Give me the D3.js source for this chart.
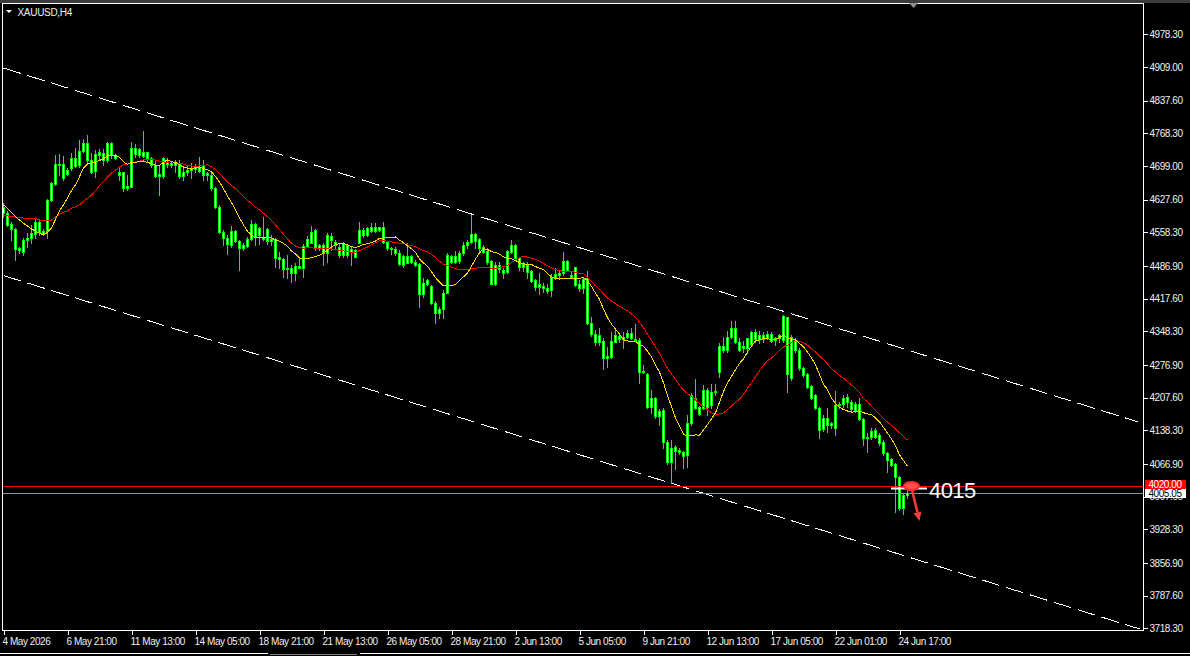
<!DOCTYPE html>
<html><head><meta charset="utf-8">
<script src="https://cdn.jsdelivr.net/npm/d3@7"></script>
<style>
html,body{margin:0;padding:0;background:#000;overflow:hidden}
svg{display:block}
text{font-family:"Liberation Sans",Arial,sans-serif}
</style></head><body>
<svg id="c" width="1190" height="656"></svg>
<script>
const symbolTitle = "XAUUSD,H4";
const opens = [
4612.7,4599.9,4575.2,4564.6,4525.7,4517.2,4541.2,4545.5,4554.0,4579.4,
4555.4,4561.0,4626.8,4660.0,4703.9,4702.5,4682.7,4694.0,4715.2,4701.1,
4730.7,4747.0,4711.7,4689.0,4722.3,4725.8,4711.7,4747.0,4722.3,4685.5,
4685.5,4651.6,4655.1,4736.4,4722.3,4720.8,4727.9,4715.2,4701.1,4678.4,
4678.4,4706.7,4704.6,4701.1,4702.5,4678.4,4685.5,4690.4,4692.6,4689.0,
4701.1,4683.4,4679.8,4651.6,4612.7,4558.2,4545.5,4531.4,4561.1,4540.6,
4524.3,4530.0,4543.4,4575.9,4552.6,4547.6,4564.6,4540.6,4543.4,4505.2,
4500.9,4480.5,4483.3,4472.7,4486.8,4483.3,4530.0,4536.3,4563.2,4525.7,
4531.4,4515.1,4551.2,4538.4,4526.4,4510.2,4531.4,4517.2,4520.8,4536.3,
4563.2,4552.6,4561.8,4568.9,4563.2,4570.3,4538.4,4522.2,4522.2,4513.7,
4488.9,4508.0,4496.0,4496.0,4491.1,4427.4,4448.6,4444.4,4409.0,4387.8,
4394.9,4430.3,4508.0,4496.0,4497.0,4513.7,4531.3,4537.0,4554.0,4544.1,
4527.8,4518.6,4497.4,4448.6,4488.9,4478.3,4473.4,4517.2,4531.3,4503.1,
4485.4,4488.9,4476.2,4457.1,4443.0,4444.4,4440.8,4435.9,4464.2,4467.7,
4471.2,4497.4,4467.7,4484.0,4447.9,4439.4,4462.0,4365.2,4341.8,4326.3,
4327.7,4292.3,4294.5,4326.3,4339.0,4331.9,4336.9,4345.4,4331.9,4329.8,
4262.6,4257.0,4188.4,4206.1,4169.3,4181.3,4112.7,4071.7,4103.6,4096.5,
4092.9,4085.9,4153.1,4207.5,4188.4,4186.3,4223.8,4192.0,4218.9,4261.3,
4317.8,4308.6,4336.9,4354.6,4324.9,4312.2,4312.2,4320.7,4346.1,4332.0,
4340.5,4333.4,4341.9,4329.9,4333.4,4329.9,4377.9,4249.9,4327.7,4308.6,
4269.8,4257.7,4233.0,4213.2,4186.3,4141.1,4163.7,4149.5,4142.5,4192.0,
4193.4,4209.6,4199.0,4181.4,4194.1,4162.3,4121.3,4124.8,4138.9,4128.3,
4114.2,4089.4,4077.4,4066.0,4040.0,3973.0,4002.0];
const highs = [
4619.7,4603.5,4580.8,4566.7,4527.8,4545.5,4556.1,4573.8,4585.8,4585.8,
4565.3,4628.9,4664.3,4722.3,4723.7,4720.8,4694.0,4725.8,4736.4,4754.1,
4756.2,4764.7,4725.8,4732.9,4735.0,4735.0,4749.1,4750.5,4723.7,4697.5,
4686.9,4679.8,4749.1,4744.9,4737.8,4773.2,4729.3,4718.7,4711.7,4701.1,
4718.7,4715.2,4709.5,4711.7,4711.7,4697.5,4701.1,4704.6,4702.5,4718.7,
4711.7,4686.9,4686.9,4655.1,4616.2,4563.2,4552.0,4571.7,4563.2,4542.0,
4534.9,4547.6,4584.4,4577.0,4568.9,4591.5,4566.7,4552.6,4545.5,4517.2,
4503.1,4510.2,4488.9,4492.5,4506.6,4533.5,4550.5,4571.7,4564.6,4533.5,
4534.9,4556.1,4557.5,4542.0,4534.9,4538.4,4533.5,4527.8,4522.2,4580.9,
4566.7,4568.9,4577.3,4578.7,4570.3,4580.9,4540.6,4527.8,4527.8,4520.8,
4510.2,4534.9,4510.2,4499.5,4492.5,4460.7,4458.5,4446.5,4413.3,4400.6,
4435.9,4513.7,4510.2,4519.4,4519.0,4538.4,4542.0,4595.0,4556.1,4545.5,
4531.3,4524.3,4499.5,4494.6,4494.6,4481.9,4520.7,4542.0,4532.8,4506.6,
4494.6,4494.6,4478.3,4459.2,4471.2,4450.0,4447.9,4469.1,4481.9,4478.3,
4515.8,4499.5,4474.8,4485.4,4457.1,4462.1,4476.2,4379.3,4351.0,4356.0,
4333.4,4315.7,4347.5,4354.6,4341.8,4347.5,4351.0,4356.0,4363.1,4333.4,
4276.8,4259.1,4223.8,4209.6,4183.5,4184.9,4117.7,4117.7,4107.1,4101.4,
4094.4,4170.7,4216.7,4247.1,4190.6,4234.4,4228.7,4235.8,4235.8,4322.8,
4336.9,4348.9,4370.2,4370.2,4333.4,4327.7,4335.0,4348.9,4353.2,4348.9,
4347.5,4348.9,4347.5,4336.9,4341.9,4382.9,4379.4,4340.5,4333.4,4312.2,
4273.3,4259.1,4234.4,4214.6,4188.4,4170.7,4185.0,4156.6,4221.7,4199.0,
4213.2,4214.6,4202.6,4199.0,4206.1,4163.7,4131.9,4143.9,4143.9,4131.9,
4117.7,4093.0,4078.8,4068.2,4042.0,4004.0,4016.0];
const lows = [
4591.4,4572.4,4542.0,4499.5,4513.7,4510.1,4527.8,4534.9,4545.5,4552.6,
4552.6,4545.5,4624.7,4658.6,4679.8,4669.2,4679.8,4690.4,4697.5,4697.5,
4729.3,4708.1,4683.4,4676.3,4711.7,4701.1,4708.1,4715.2,4713.8,4669.2,
4646.6,4648.0,4653.7,4718.7,4718.7,4718.7,4708.1,4697.5,4676.3,4637.4,
4672.8,4697.5,4697.5,4686.9,4672.8,4669.2,4679.8,4672.8,4686.9,4686.9,
4669.2,4669.2,4648.0,4609.1,4556.1,4531.3,4511.5,4527.8,4538.4,4478.3,
4520.8,4527.8,4542.0,4531.4,4533.5,4542.0,4533.5,4531.4,4484.0,4481.9,
4464.2,4460.7,4453.6,4457.1,4481.9,4464.2,4527.8,4534.9,4520.8,4520.8,
4488.9,4496.0,4520.8,4524.3,4506.6,4506.6,4506.6,4488.9,4505.2,4534.9,
4549.1,4550.5,4559.7,4559.7,4561.8,4534.9,4520.8,4512.3,4510.2,4488.9,
4485.4,4492.5,4492.5,4486.8,4400.6,4421.8,4446.5,4406.2,4366.6,4375.8,
4375.8,4428.8,4493.9,4492.5,4494.0,4510.1,4524.3,4534.9,4524.3,4517.2,
4513.7,4490.3,4448.6,4446.5,4474.8,4462.1,4471.2,4513.7,4499.5,4478.3,
4476.2,4462.1,4453.6,4435.9,4426.7,4430.9,4428.8,4423.9,4459.2,4459.2,
4467.7,4476.2,4462.1,4445.1,4433.8,4428.8,4363.1,4339.0,4319.2,4319.2,
4268.3,4273.2,4292.3,4324.9,4324.9,4312.1,4333.4,4331.9,4327.7,4237.9,
4259.1,4186.3,4174.3,4163.7,4149.5,4100.0,4066.1,4026.0,4056.2,4087.3,
4057.6,4060.0,4149.5,4183.5,4170.7,4183.5,4170.7,4186.3,4213.2,4252.1,
4305.1,4305.1,4333.4,4322.8,4306.5,4305.1,4301.6,4317.8,4326.3,4322.8,
4325.0,4331.0,4325.0,4319.3,4326.3,4326.3,4218.9,4245.0,4305.1,4266.2,
4252.1,4227.3,4204.7,4183.5,4121.3,4136.8,4135.4,4142.5,4128.3,4184.9,
4188.4,4188.4,4177.8,4177.8,4160.2,4107.1,4091.6,4119.8,4122.7,4107.1,
4085.9,4050.6,4063.3,3965.7,3970.0,3960.0,3995.0];
const closes = [
4598.5,4573.8,4565.3,4522.9,4520.7,4542.0,4546.9,4557.5,4579.4,4558.2,
4561.0,4626.8,4662.2,4702.5,4701.1,4672.8,4690.4,4715.2,4699.6,4730.7,
4747.0,4711.7,4686.9,4723.7,4727.9,4711.7,4747.0,4722.3,4715.2,4679.8,
4651.6,4656.5,4736.4,4723.7,4735.0,4727.9,4715.2,4701.1,4678.4,4681.2,
4715.2,4702.5,4701.1,4708.1,4678.4,4685.5,4690.4,4695.4,4697.5,4697.5,
4679.8,4679.8,4651.6,4612.7,4558.2,4545.5,4532.8,4561.1,4540.6,4525.7,
4531.4,4543.4,4575.9,4547.6,4566.7,4543.4,4540.6,4543.4,4504.5,4500.9,
4480.5,4483.3,4472.7,4486.8,4483.3,4530.0,4543.4,4559.7,4527.8,4531.4,
4515.1,4552.6,4542.0,4531.4,4510.2,4534.9,4510.2,4522.9,4506.6,4563.2,
4552.6,4566.7,4568.9,4561.8,4568.9,4538.4,4524.3,4525.7,4513.7,4490.4,
4508.0,4493.9,4508.0,4488.9,4427.4,4450.1,4457.1,4409.0,4387.8,4394.9,
4430.3,4510.2,4496.0,4508.0,4515.0,4531.3,4537.0,4554.0,4539.8,4525.7,
4517.2,4496.0,4449.3,4488.9,4480.4,4472.7,4518.6,4531.3,4503.1,4485.4,
4490.3,4474.8,4455.0,4443.0,4447.9,4439.4,4433.8,4464.2,4469.8,4472.7,
4497.4,4478.3,4464.2,4446.5,4439.4,4460.0,4365.2,4341.8,4326.3,4340.4,
4292.3,4296.6,4327.7,4340.4,4331.9,4336.9,4344.0,4333.4,4329.8,4262.6,
4264.8,4188.4,4207.5,4169.3,4179.2,4112.7,4070.3,4100.0,4094.4,4091.5,
4084.5,4153.1,4213.2,4186.3,4172.2,4223.8,4188.4,4218.9,4221.7,4317.8,
4308.6,4336.9,4354.6,4324.9,4308.6,4317.8,4333.4,4346.1,4332.0,4340.5,
4332.0,4341.9,4327.7,4333.4,4340.5,4380.8,4257.0,4336.9,4308.6,4269.8,
4255.6,4230.9,4207.5,4184.9,4138.9,4165.1,4149.5,4153.1,4192.0,4194.8,
4207.5,4199.0,4182.8,4194.1,4161.6,4121.3,4124.8,4136.8,4124.8,4110.7,
4089.4,4075.3,4064.7,4040.0,3973.0,4002.0,4005.05];

// moving-average values for the first bars, whose
// windows reach back before the first visible candle
const fastMaLeadIn = [4616.2,4609.1,4600.6,4591.4,4584.4,4577.3,4571.6,4565.3,4561.0];
const slowMaLeadIn = [4593.6,4592.9,4591.4,4590.7,4589.3,4588.6,4588.6,4588.6,4587.9,4584.4,
                      4582.3,4582.3,4584.4,4590.7,4596.4,4600.6,4604.2,4609.1,4612.7];

const xTickBars = [0,16,32,48,64,80,96,112,128,144,160,176,192,208,224];
const xTickLabels = ["4 May 2026","6 May 21:00","11 May 13:00","14 May 05:00","18 May 21:00","21 May 13:00","26 May 05:00","28 May 21:00","2 Jun 13:00","5 Jun 05:00","9 Jun 21:00","12 Jun 13:00","17 Jun 05:00","22 Jun 01:00","24 Jun 17:00"];
const yTickValues = [4978.30,4909.00,4837.60,4768.30,4699.00,4627.60,4558.30,4486.90,4417.60,4348.30,4276.90,4207.60,4138.30,4066.90,3997.60,3928.30,3856.90,3787.60,3718.30];

const levelLine = 4020.00;
const bidPrice = 4005.05;
const noteValue = 4015;
const channelUpper = [[0,4906.8],[283.7,4155.9]];
const channelLower = [[0,4466.5],[284,3717.0]];
const maFastPeriod = 10, maSlowPeriod = 20;

const W = 1190, H = 656;
const svg = d3.select("#c");
const x = d3.scaleLinear().domain([0,284]).range([3,1139]);
const y = d3.scaleLinear().domain([3718.3,4978.3]).range([628.3,34.3]);

svg.append("rect").attr("x",0).attr("y",0).attr("width",W).attr("height",H).attr("fill","#000");
svg.append("rect").attr("x",0).attr("y",0).attr("width",W).attr("height",3).attr("fill","#3c3c3c");

svg.append("clipPath").attr("id","plot").append("rect")
  .attr("x",3).attr("y",4).attr("width",1140).attr("height",626);
const g = svg.append("g").attr("clip-path","url(#plot)");

const bars = d3.range(closes.length).map(i => ({i, o:opens[i], h:highs[i], l:lows[i], c:closes[i]}));

// wicks
g.append("g").selectAll("rect").data(bars).join("rect")
  .attr("x", d => x(d.i)).attr("width", 1)
  .attr("y", d => Math.round(y(d.h)))
  .attr("height", d => Math.round(y(d.l)) - Math.round(y(d.h)) + 1)
  .attr("fill", "#00ff00").attr("shape-rendering","crispEdges");
// bodies
const bodyTop = d => Math.round(y(Math.max(d.o,d.c)));
const bodyH = d => Math.round(y(Math.min(d.o,d.c))) - bodyTop(d) + 1;
g.append("g").selectAll("rect").data(bars).join("rect")
  .attr("x", d => x(d.i) - 1).attr("width", 3)
  .attr("y", bodyTop).attr("height", bodyH)
  .attr("fill", "#00ff00").attr("shape-rendering","crispEdges");
g.append("g").selectAll("rect").data(bars.filter(d => bodyH(d) > 2)).join("rect")
  .attr("x", d => x(d.i)).attr("width", 1)
  .attr("y", d => bodyTop(d) + 1).attr("height", d => bodyH(d) - 2)
  .attr("fill", "#ffffff").attr("shape-rendering","crispEdges");

// moving averages (simple, on closes)
function sma(p, leadIn){
  return closes.map((c,i) => i < p - 1 ? leadIn[i] : d3.mean(closes.slice(i-p+1, i+1)));
}
const maLine = d3.line().x((d,i) => x(i) + 0.5).y(d => y(d));
g.append("path").attr("d", maLine(sma(maSlowPeriod, slowMaLeadIn))).attr("fill","none")
  .attr("stroke","#ff0000").attr("stroke-width",1).attr("shape-rendering","crispEdges");
g.append("path").attr("d", maLine(sma(maFastPeriod, fastMaLeadIn))).attr("fill","none")
  .attr("stroke","#ffd700").attr("stroke-width",1).attr("shape-rendering","crispEdges");

// channel lines
const chLine = d3.line().x(d => x(d[0]) + 0.5).y(d => y(d[1]));
[channelUpper, channelLower].forEach(ch => {
  g.append("path").attr("d", chLine(ch)).attr("fill","none")
    .attr("stroke","#ffffff").attr("stroke-width",1).attr("stroke-dasharray","18,7")
    .attr("shape-rendering","crispEdges");
});

// horizontal level lines
const hy = v => Math.round(y(v)) + 0.5;
g.append("line").attr("x1",3).attr("x2",1143).attr("y1",hy(levelLine)).attr("y2",hy(levelLine))
  .attr("stroke","#ff0000").attr("stroke-width",1);
g.append("line").attr("x1",3).attr("x2",1143).attr("y1",hy(bidPrice)).attr("y2",hy(bidPrice))
  .attr("stroke","#8a9aab").attr("stroke-width",1);

// frame
svg.append("rect").attr("x",2.5).attr("y",3.5).attr("width",1141).attr("height",627)
  .attr("fill","none").attr("stroke","#ffffff").attr("stroke-width",1);

// price axis
const yAxis = d3.axisRight(y).tickValues(yTickValues).tickFormat(d3.format(".2f")).tickSize(4).tickPadding(2);
const ya = svg.append("g").attr("transform","translate(1143.5,0)").call(yAxis);
ya.select(".domain").remove();
ya.selectAll(".tick line").attr("stroke","#ffffff").attr("shape-rendering","crispEdges");
ya.selectAll(".tick text").attr("fill","#f0f0f0").attr("font-size","10px")
  .attr("letter-spacing","-0.45px").attr("font-family","Liberation Sans, Arial, sans-serif");

// time axis
const xAxis = d3.axisBottom(x).tickValues(xTickBars)
  .tickFormat((d,i) => xTickLabels[i]).tickSize(4).tickPadding(3);
const xa = svg.append("g").attr("transform","translate(0.5,630.5)").call(xAxis);
xa.select(".domain").remove();
xa.selectAll(".tick line").attr("stroke","#ffffff").attr("shape-rendering","crispEdges");
xa.selectAll(".tick text").attr("fill","#f0f0f0").attr("font-size","10px")
  .attr("text-anchor","start").attr("x",-1.5).attr("letter-spacing","-0.45px")
  .attr("font-family","Liberation Sans, Arial, sans-serif");

// price labels on the axis (drawn over the tick label they hide, as in the source)
const bidTop = Math.round(y(bidPrice)) - 4;
svg.append("rect").attr("x",1145).attr("y",bidTop).attr("width",41).attr("height",9).attr("fill","#ffffff");
svg.append("text").attr("x",1148.5).attr("y",bidTop + 8).attr("font-size","10px").attr("letter-spacing","-0.45px")
  .attr("fill","#000").text(d3.format(".2f")(bidPrice));
const lvlTop = bidTop - 9;
svg.append("rect").attr("x",1145).attr("y",lvlTop).attr("width",41).attr("height",9).attr("fill","#ff0000");
svg.append("text").attr("x",1148.5).attr("y",lvlTop + 8).attr("font-size","10px").attr("letter-spacing","-0.45px")
  .attr("fill","#ffffff").text(d3.format(".2f")(levelLine));

// title
svg.append("path").attr("d","M6,10 L12,10 L9,13 Z").attr("fill","#ffffff");
svg.append("text").attr("x",17.5).attr("y",15.5).attr("font-size","10px").attr("letter-spacing","-0.3px")
  .attr("fill","#f0f0f0").text(symbolTitle);

// chart shift marker
svg.append("path").attr("d","M909,3 L918,3 L913.5,8 Z").attr("fill","#8c8c8c");

// bottom tab strip
svg.append("line").attr("x1",0).attr("x2",268).attr("y1",653.5).attr("y2",653.5).attr("stroke","#ffffff");
svg.append("line").attr("x1",270).attr("x2",357).attr("y1",654.5).attr("y2",654.5).attr("stroke","#808080");
svg.append("line").attr("x1",360).attr("x2",1190).attr("y1",653.5).attr("y2",653.5).attr("stroke","#ffffff");

// annotation at the last bar
const lastI = closes.length - 1;
const ny = Math.round(y(noteValue)) + 0.5;
svg.append("line").attr("x1", x(lastI - 4)).attr("x2", x(lastI + 5)).attr("y1", ny).attr("y2", ny)
  .attr("stroke","#ffffff").attr("stroke-width",2);
const ecx = x(lastI) + 4.5, ecy = y(levelLine);
const tipX = ecx + 8, tipY = ecy + 35;
const sx = ecx + 0.5, sy = ecy + 4;
const dx = tipX - sx, dy = tipY - sy, len = Math.hypot(dx,dy), ux = dx/len, uy = dy/len;
const bx = tipX - 9*ux, by = tipY - 9*uy;
svg.append("line").attr("x1",sx).attr("y1",sy).attr("x2",bx).attr("y2",by)
  .attr("stroke","#ff3a3a").attr("stroke-width",2.5);
svg.append("path").attr("d", `M${tipX},${tipY} L${bx+4*uy},${by-4*ux} L${bx-4*uy},${by+4*ux} Z`).attr("fill","#ff3a3a");
svg.append("ellipse").attr("cx",ecx).attr("cy",ecy).attr("rx",7.5).attr("ry",4)
  .attr("fill","#ff5050").attr("stroke","#ff2a2a").attr("stroke-width",2);
svg.append("text").attr("x", x(lastI) + 22).attr("y", ny + 9.5).attr("font-size","22px")
  .attr("fill","#ffffff").attr("letter-spacing","-0.6px").text(String(noteValue));
</script>
</body></html>
